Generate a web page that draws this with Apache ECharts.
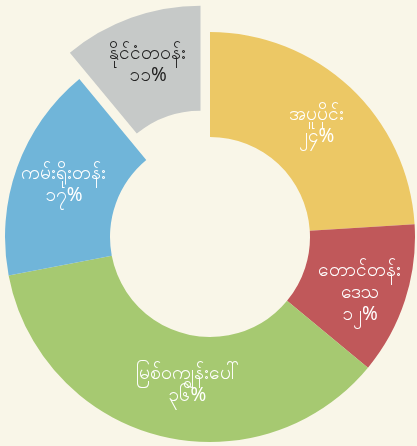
<!DOCTYPE html>
<html>
<head>
<meta charset="utf-8">
<script src="https://cdn.jsdelivr.net/npm/echarts@6/dist/echarts.min.js"></script>
<style>
  html, body { margin: 0; padding: 0; background: #f9f6e8; }
  #chart { width: 417px; height: 446px; }
</style>
</head>
<body>
<div id="chart"></div>
<script>
// ဒေသအလိုက် ရာခိုင်နှုန်း
var regions = ['အပူပိုင်း', 'တောင်တန်း\nဒေသ', 'မြစ်ဝကျွန်းပေါ်', 'ကမ်းရိုးတန်း', 'နိုင်ငံတဝန်း'];
var shares = [24, 12, 36, 17, 11];
var shareText = ['၂၄%', '၁၂%', '၃၆%', '၁၇%', '၁၁%'];
var colors = ['#ecc865', '#c0585a', '#a6c971', '#70b5d9', '#c6c9c8'];
var labelShift = [[0, 2], [2, 8], [16, -3], [0, 0], [2, -12]];

var chart = echarts.init(document.getElementById('chart'));

var data = regions.map(function (name, i) {
    var item = {
        name: name,
        value: shares[i],
        itemStyle: { color: colors[i] },
        label: { formatter: name + '\n' + shareText[i], offset: labelShift[i] }
    };
    if (i === 4) {
        item.selected = true; // ထုတ်ထားသောအပိုင်း
        item.label.color = '#222';
    }
    return item;
});

var option = {
    backgroundColor: '#f9f6e8',
    series: [{
        type: 'pie',
        center: [210, 237],
        radius: [100, 205],
        startAngle: 90,
        clockwise: true,
        selectedMode: 'single',
        selectedOffset: 28,
        silent: true,
        label: {
            show: true,
            position: 'inside',
            color: '#fff',
            fontSize: 19,
            lineHeight: 22,
            fontFamily: 'Noto Sans, sans-serif'
        },
        labelLine: { show: false },
        data: data
    }]
};

chart.setOption(option);
</script>
</body>
</html>
